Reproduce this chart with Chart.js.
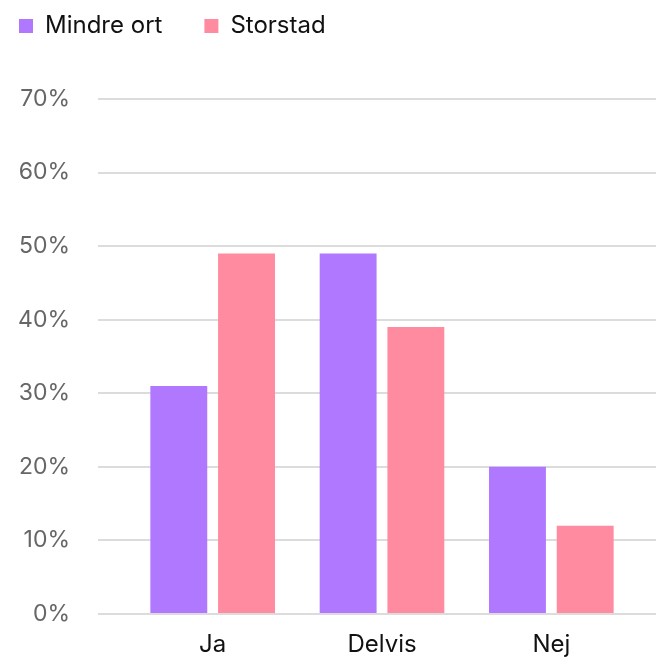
<!DOCTYPE html>
<html>
<head>
<meta charset="utf-8">
<script src="https://cdn.jsdelivr.net/npm/chart.js@4"></script>
<style>
  html, body { margin: 0; padding: 0; background: #fff; }
  #wrap { width: 656px; height: 660px; }
</style>
</head>
<body>
<div id="wrap"><canvas id="myChart"></canvas></div>
<script>
var kategorier = ["Ja", "Delvis", "Nej"];
var mindreOrt = [31, 49, 20];
var storstad = [49, 39, 12];
var yTicks = [0, 10, 20, 30, 40, 50, 60, 70];

Chart.defaults.font.family = "Inter, 'Noto Sans', sans-serif";

var legendPadding = 42;

// legend: fixed height, moved up/left to sit like the original
var legendPlugin = {
  id: "legendPlacering",
  beforeInit: function (chart) {
    var origFit = chart.legend.fit;
    chart.legend.fit = function () {
      origFit.bind(chart.legend)();
      this.height = 99;
    };
  },
  afterLayout: function (chart) {
    var lg = chart.legend;
    var dx = 19 - (lg.left + legendPadding);
    lg.left += dx;
    lg.right += dx;
    lg.top = 26 - 12 - legendPadding;
  },
};

var setTicks = function (axis) {
  axis.ticks = yTicks.map(function (v) { return { value: v }; });
};

var ctx = document.getElementById("myChart");
var data = {
  labels: kategorier,
  datasets: [
    {
      label: "Mindre ort",
      data: mindreOrt,
      backgroundColor: "#B077FF",
    },
    {
      label: "Storstad",
      data: storstad,
      backgroundColor: "#FF8BA0",
    },
  ],
};

var config = {
  type: "bar",
  data,
  plugins: [legendPlugin],
  options: {
    responsive: true,
    maintainAspectRatio: false,
    animation: false,
    datasets: {
      bar: { categoryPercentage: 0.8, barPercentage: 0.84 },
    },
    layout: { padding: 0 },
    plugins: {
      tooltip: { enabled: false },
      legend: {
        align: "start",
        labels: {
          boxWidth: 14,
          boxHeight: 14,
          padding: legendPadding,
          color: "#111",
          font: { size: 24 },
        },
      },
    },
    scales: {
      x: {
        afterFit: function (axis) { axis.height = 46; },
        grid: { display: false, tickLength: 0 },
        border: { display: false },
        ticks: { color: "#111", font: { size: 24 }, padding: 16 },
      },
      y: {
        min: 0,
        max: 70,
        afterBuildTicks: setTicks,
        afterFit: function (axis) { axis.width = 128; },
        border: { display: false },
        grid: { color: "#dcdcdc", lineWidth: 2, tickLength: 30 },
        ticks: {
          color: "#666",
          font: { size: 23 },
          padding: 28,
          callback: function (v) { return v + "%"; },
        },
      },
      yHoger: {
        position: "right",
        min: 0,
        max: 70,
        afterBuildTicks: setTicks,
        border: { display: false },
        grid: { color: "#dcdcdc", lineWidth: 2, tickLength: 20, drawOnChartArea: false },
        ticks: { display: false },
      },
    },
  },
};

var myChart = new Chart(ctx, config);
</script>
</body>
</html>
